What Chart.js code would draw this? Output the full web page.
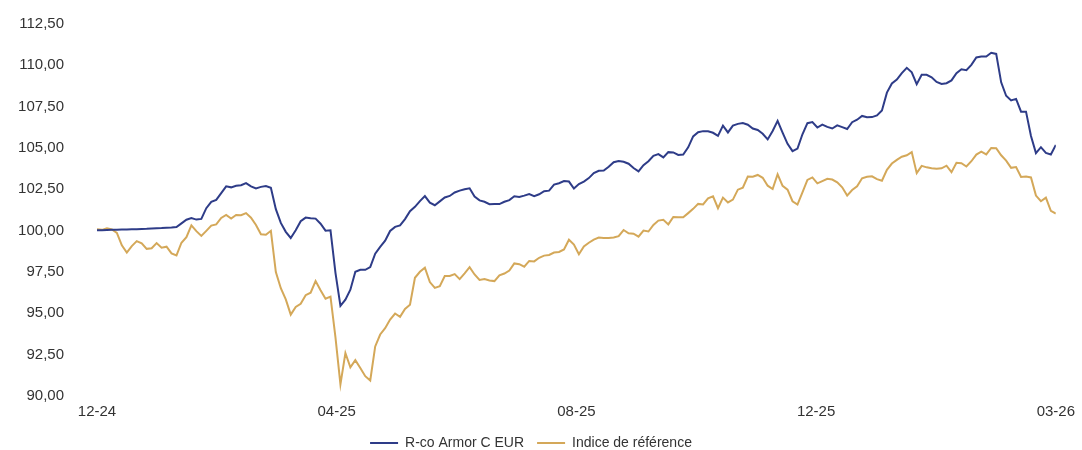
<!DOCTYPE html>
<html><head><meta charset="utf-8">
<script src="https://cdn.jsdelivr.net/npm/chart.js@4.4.1/dist/chart.umd.min.js"></script>
<style>html,body{margin:0;padding:0;background:#fff}#wrap{width:1082px;height:450px;position:relative}</style>
</head><body><div id="wrap"><canvas id="c" width="1082" height="450"></canvas></div>
<script>
const seriesNames = ['R-co Armor C EUR', 'Indice de référence'];
const rco = [
100.02,100.03,100.04,100.05,100.05,100.07,100.07,100.08,100.09,100.10,
100.11,100.13,100.15,100.16,100.18,100.19,100.22,100.44,100.66,100.76,
100.67,100.71,101.36,101.74,101.86,102.27,102.68,102.62,102.72,102.75,
102.88,102.68,102.56,102.65,102.70,102.59,101.30,100.47,99.93,99.56,
100.02,100.57,100.79,100.75,100.73,100.42,100.00,100.02,97.45,95.45,
95.83,96.43,97.51,97.63,97.63,97.80,98.61,99.02,99.39,99.98,
100.23,100.32,100.70,101.18,101.44,101.79,102.09,101.69,101.54,101.77,
102.01,102.10,102.31,102.42,102.51,102.56,102.06,101.83,101.75,101.60,
101.62,101.61,101.75,101.85,102.08,102.04,102.12,102.21,102.09,102.20,
102.39,102.42,102.79,102.87,103.00,102.97,102.55,102.82,102.97,103.18,
103.48,103.62,103.64,103.86,104.14,104.21,104.17,104.05,103.79,103.59,
103.96,104.20,104.53,104.63,104.43,104.75,104.73,104.58,104.61,105.04,
105.70,105.95,106.02,106.01,105.92,105.73,106.35,105.94,106.35,106.46,
106.51,106.41,106.18,106.09,105.86,105.52,106.03,106.64,105.93,105.25,
104.81,104.96,105.83,106.50,106.57,106.24,106.42,106.28,106.18,106.37,
106.26,106.15,106.56,106.71,106.94,106.86,106.87,106.97,107.27,108.35,
108.90,109.14,109.53,109.85,109.58,108.86,109.43,109.43,109.28,109.00,
108.87,108.92,109.09,109.52,109.76,109.71,110.03,110.48,110.53,110.53,
110.76,110.69,108.97,108.16,107.88,107.97,107.20,107.20,105.73,104.69,
105.05,104.70,104.61,105.18
];
const indice = [
100.08,100.05,100.15,100.07,99.87,99.11,98.67,99.07,99.37,99.24,
98.90,98.94,99.25,98.97,99.03,98.63,98.50,99.27,99.61,100.32,
99.97,99.68,99.99,100.31,100.38,100.77,100.95,100.73,100.95,100.93,
101.06,100.78,100.34,99.78,99.75,99.99,97.49,96.52,95.84,94.92,
95.39,95.58,96.10,96.25,96.95,96.40,95.88,96.01,93.55,90.70,
92.60,91.73,92.17,91.69,91.20,90.94,93.00,93.72,94.10,94.62,
94.99,94.79,95.27,95.52,97.15,97.51,97.76,96.89,96.54,96.64,
97.26,97.26,97.37,97.07,97.42,97.79,97.35,97.02,97.07,96.99,
96.95,97.30,97.41,97.59,98.02,97.97,97.82,98.17,98.14,98.36,
98.49,98.53,98.68,98.71,98.86,99.45,99.16,98.57,99.05,99.27,
99.46,99.58,99.56,99.56,99.59,99.67,100.04,99.84,99.82,99.64,
100.01,99.95,100.35,100.61,100.66,100.38,100.83,100.81,100.81,101.06,
101.32,101.62,101.59,101.95,102.08,101.36,102.00,101.71,101.88,102.48,
102.60,103.27,103.26,103.37,103.20,102.72,102.52,103.41,102.71,102.48,
101.78,101.58,102.32,103.07,103.22,102.86,103.00,103.14,103.09,102.92,
102.62,102.12,102.46,102.69,103.17,103.26,103.29,103.12,103.02,103.68,
104.06,104.28,104.47,104.56,104.75,103.48,103.92,103.83,103.78,103.74,
103.77,103.93,103.54,104.11,104.08,103.88,104.20,104.60,104.78,104.61,
105.00,104.99,104.56,104.24,103.80,103.85,103.25,103.28,103.22,102.12,
101.78,102.00,101.20,101.03
];
const xTickLabels = ['12-24', '04-25', '08-25', '12-25', '03-26'];
const xTickIndex = [0, 48.25, 96.5, 144.75, 193];
const colors = ['#2e3c88', '#d4a859'];

const FONT = 'Liberation Sans, Arial, sans-serif';

const toPts = arr => arr.map((v, i) => ({ x: i, y: v }));

new Chart(document.getElementById('c'), {
  type: 'line',
  data: {
    datasets: [
      { label: seriesNames[0], data: toPts(rco), borderColor: colors[0], backgroundColor: colors[0], borderWidth: 2, pointRadius: 0, tension: 0 },
      { label: seriesNames[1], data: toPts(indice), borderColor: colors[1], backgroundColor: colors[1], borderWidth: 2, pointRadius: 0, tension: 0 }
    ]
  },
  options: {
    responsive: false,
    animation: false,
    devicePixelRatio: 1,
    layout: { padding: { top: 24, right: 20, left: 0, bottom: 0 } },
    plugins: {
      tooltip: { enabled: false },
      legend: {
        position: 'bottom',
        maxHeight: 27,
        labels: {
          font: { family: FONT, size: 14 },
          color: '#333',
          boxWidth: 28,
          boxHeight: 2,
          padding: 13,
          generateLabels: (chart) => chart.data.datasets.map((d, i) => ({
            text: d.label, fillStyle: d.borderColor, strokeStyle: d.borderColor, lineWidth: 0, datasetIndex: i, fontColor: '#333'
          }))
        }
      }
    },
    scales: {
      x: {
        type: 'linear', min: 0, max: rco.length - 1,
        grid: { display: false, drawTicks: false }, border: { display: false },
        afterBuildTicks: s => { s.ticks = xTickIndex.map(v => ({ value: v })); },
        afterFit: s => { s.height = 27; },
        ticks: {
          autoSkip: false, maxRotation: 0, padding: 7,
          font: { family: FONT, size: 15 }, color: '#333',
          callback: (v, i) => xTickLabels[i]
        }
      },
      y: {
        min: 90, max: 112.5,
        grid: { display: false, drawTicks: false }, border: { display: false },
        afterFit: s => { s.width = 97; s.paddingTop = 0; s.paddingBottom = 0; },
        ticks: {
          stepSize: 2.5, padding: 33,
          font: { family: FONT, size: 15 }, color: '#333',
          callback: v => v.toFixed(2).replace('.', ',')
        }
      }
    }
  }
});
</script>
</body></html>
